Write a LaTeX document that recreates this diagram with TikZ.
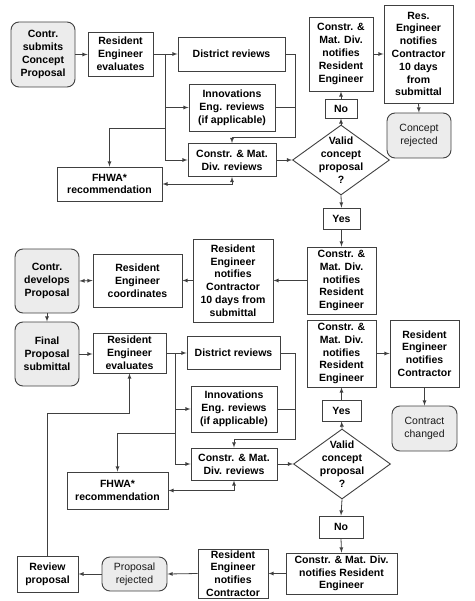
\documentclass[tikz,border=0pt]{standalone}
\usepackage{fontspec}
\setmainfont{Liberation Sans}
\usepackage{xcolor}
\usepackage{tikz}
\usetikzlibrary{calc,arrows,shapes}

\definecolor{edge}{RGB}{64,64,64}
\definecolor{soft}{RGB}{236,236,236}

\begin{document}
\begin{tikzpicture}[x=1pt,y=-1pt,
    box/.style={draw=edge, line width=0.9pt, align=center, inner sep=1pt,
        font=\fontsize{10.5}{12.8}\selectfont\bfseries},
    rbox/.style={box, rounded corners=8pt, fill=soft},
    endbox/.style={rbox, font=\fontsize{10.5}{12.8}\selectfont, text=black!90},
    decision/.style={draw=edge, line width=0.9pt, diamond, inner sep=0pt,
        minimum width=97pt, minimum height=70pt},
    dtext/.style={align=center, inner sep=0pt, font=\fontsize{10.5}{12.8}\selectfont\bfseries},
    line/.style={draw=edge, line width=0.8pt},
    arr/.style={line, -latex},
    arrr/.style={line, latex-latex}]

    \useasboundingbox (0,0) rectangle (474,601);

    % concept proposal
    \node[rbox, minimum width=64pt, minimum height=65pt] (submit) at (43,54.5) {Contr.\\submits\\Concept\\Proposal};
    \node[box, minimum width=65pt, minimum height=44pt] (evalA) at (120.5,54) {Resident\\Engineer\\evaluates};
    \node[box, minimum width=107pt, minimum height=34pt] (distA) at (231.5,54) {District reviews};
    \node[box, minimum width=86pt, minimum height=47pt] (innovA) at (232,107.5) {Innovations\\Eng. reviews\\(if applicable)};
    \node[box, minimum width=88pt, minimum height=33pt] (cmrevA) at (232,160) {Constr. \& Mat.\\Div. reviews};
    \node[box, minimum width=105pt, minimum height=34pt] (fhwaA) at (109.5,184) {FHWA*\\recommendation};
    \node[decision] (validA) at (341,160) {};
    \node[dtext] (validAtxt) at (validA) {Valid\\concept\\proposal\\?};
    \node[box, minimum width=32pt, minimum height=19pt] (noA) at (341,108.5) {No};
    \node[box, minimum width=64pt, minimum height=74pt] (cmnotA) at (341,54) {Constr. \&\\Mat. Div.\\notifies\\Resident\\Engineer};
    \node[box, minimum width=69pt, minimum height=98pt] (renotA) at (418.5,54) {Res.\\Engineer\\notifies\\Contractor\\10 days\\from\\submittal};
    \node[endbox, minimum width=64pt, minimum height=45pt] (rejA) at (419,135.5) {Concept\\rejected};

    \coordinate (jA) at (165,54);
    \coordinate (kA) at (165,128);
    \coordinate (rA) at (295,137);

    \draw[arr] (submit.east) -- (submit.east -| evalA.west);
    \draw[arr] (evalA.east) -- (distA.west);
    \draw[arr] (jA) |- (cmrevA.west);
    \draw[arr] (jA |- innovA.west) -- (innovA.west);
    \draw[arr] (kA) -| (fhwaA.north);
    \draw[arr] (distA.east) -| (rA) -| (cmrevA.north);
    \draw[line] (innovA.east) -- (innovA.east -| rA);
    \draw[arrr] (fhwaA.east) -| (cmrevA.south);
    \draw[arr] (cmrevA.east) -- (validA.west);
    \draw[arr] (validA.north) -- (noA.south);
    \draw[arr] (noA.north) -- (cmnotA.south);
    \draw[arr] (cmnotA.east) -- (renotA.west);
    \draw[arr] (renotA.south) -- (rejA.north);

    % back to the contractor
    \node[box, minimum width=37pt, minimum height=21pt] (yesB) at (341.5,218.5) {Yes};
    \node[box, minimum width=69pt, minimum height=67pt] (cmnotB) at (341.5,280.5) {Constr. \&\\Mat. Div.\\notifies\\Resident\\Engineer};
    \node[box, minimum width=80pt, minimum height=83pt] (renotB) at (233,280.5) {Resident\\Engineer\\notifies\\Contractor\\10 days from\\submittal};
    \node[box, minimum width=89pt, minimum height=53pt] (coord) at (137.5,280.5) {Resident\\Engineer\\coordinates};
    \node[rbox, minimum width=64pt, minimum height=64pt] (develop) at (47,281) {Contr.\\develops\\Proposal};

    \draw[arr] (validA.south) -- (yesB.north);
    \draw[arr] (yesB.south) -- (cmnotB.north);
    \draw[arr] (cmnotB.west) -- (renotB.east);
    \draw[arr] (renotB.west) -- (coord.east);
    \draw[arrr] (develop.east) -- (coord.west);

    % final proposal
    \node[rbox, minimum width=64pt, minimum height=64pt] (final) at (47,354) {Final\\Proposal\\submittal};
    \node[box, minimum width=73pt, minimum height=40pt] (evalB) at (129.5,353) {Resident\\Engineer\\evaluates};
    \node[box, minimum width=93pt, minimum height=33pt] (distB) at (233.5,353) {District reviews};
    \node[box, minimum width=86pt, minimum height=46pt] (innovB) at (234,409) {Innovations\\Eng. reviews\\(if applicable)};
    \node[box, minimum width=86pt, minimum height=32pt] (cmrevB) at (234,464) {Constr. \& Mat.\\Div. reviews};
    \node[box, minimum width=101pt, minimum height=37pt] (fhwaB) at (117.5,490.5) {FHWA*\\recommendation};
    \node[decision] (validB) at (342,464) {};
    \node[dtext] (validBtxt) at (validB) {Valid\\concept\\proposal\\?};
    \node[box, minimum width=39pt, minimum height=21pt] (yesC) at (341.5,410.5) {Yes};
    \node[box, minimum width=69pt, minimum height=67pt] (cmnotC) at (341.5,353.5) {Constr. \&\\Mat. Div.\\notifies\\Resident\\Engineer};
    \node[box, minimum width=69pt, minimum height=67pt] (renotC) at (424.5,353.5) {Resident\\Engineer\\notifies\\Contractor};
    \node[endbox, minimum width=65pt, minimum height=45pt] (changed) at (424.5,428.5) {Contract\\changed};

    \coordinate (jB) at (175,353);
    \coordinate (kB) at (175,433);
    \coordinate (rB) at (295,439);

    \draw[arr] (develop.south) -- (final.north);
    \draw[arr] (final.east) -- (final.east -| evalB.west);
    \draw[arr] (evalB.east) -- (distB.west);
    \draw[arr] (jB) |- (cmrevB.west);
    \draw[arr] (jB |- innovB.west) -- (innovB.west);
    \draw[arr] (kB) -| (fhwaB.north);
    \draw[arr] (distB.east) -| (rB) -| (cmrevB.north);
    \draw[line] (innovB.east) -- (innovB.east -| rB);
    \draw[arrr] (fhwaB.east) -| (cmrevB.south);
    \draw[arr] (cmrevB.east) -- (validB.west);
    \draw[arr] (validB.north) -- (yesC.south);
    \draw[arr] (yesC.north) -- (cmnotC.south);
    \draw[arr] (cmnotC.east) -- (renotC.west);
    \draw[arr] (renotC.south) -- (changed.north);

    % rejected proposal
    \node[box, minimum width=44pt, minimum height=22pt] (noC) at (341,527) {No};
    \node[box, minimum width=111pt, minimum height=41pt] (cmnotD) at (341.5,573.5) {Constr. \& Mat. Div.\\notifies Resident\\Engineer};
    \node[box, minimum width=70pt, minimum height=49pt] (renotD) at (233,573.5) {Resident\\Engineer\\notifies\\Contractor};
    \node[endbox, minimum width=65pt, minimum height=34pt] (prej) at (134.5,574) {Proposal\\rejected};
    \node[box, minimum width=61pt, minimum height=36pt] (review) at (47.5,574) {Review\\proposal};

    \coordinate (uB) at (129.5,413);

    \draw[arr] (validB.south) -- (noC.north);
    \draw[arr] (noC.south) -- (cmnotD.north);
    \draw[arr] (cmnotD.west) -- (renotD.east);
    \draw[arr] (renotD.west) -- (prej.east);
    \draw[arr] (prej.west) -- (review.east);
    \draw[arr] (review.north) |- (uB) -- (evalB.south);

\end{tikzpicture}
\end{document}
